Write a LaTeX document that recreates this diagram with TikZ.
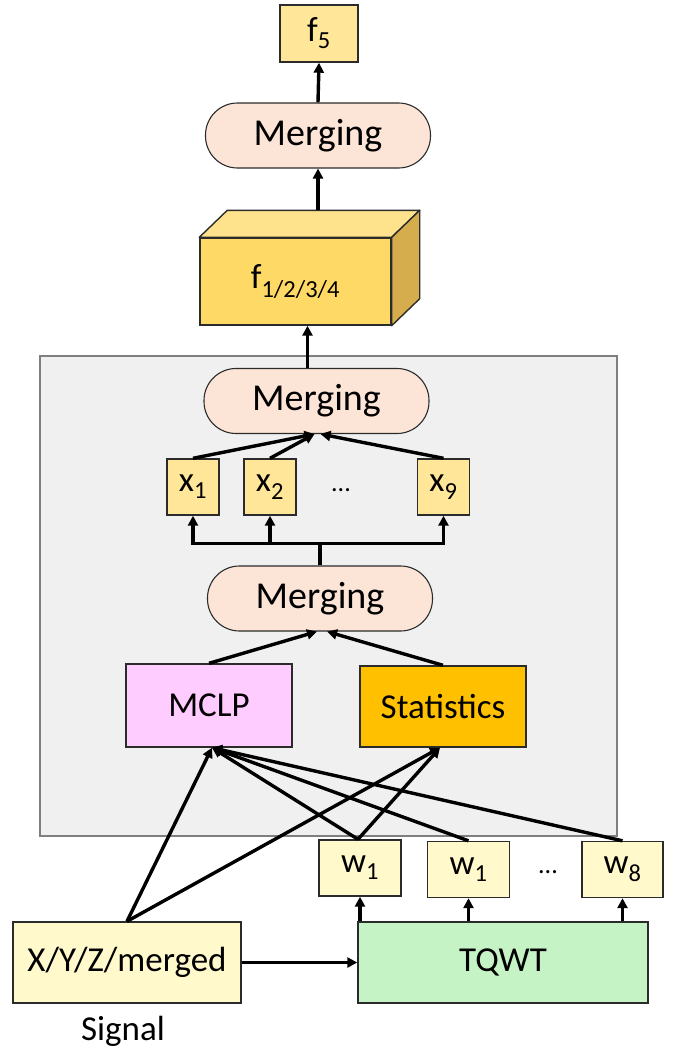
\documentclass[tikz,border=0pt]{standalone}
\usepackage{fontspec}
\setmainfont{Carlito}
\usetikzlibrary{arrows.meta}

\definecolor{goldlight}{HTML}{FFE699}
\definecolor{cubefront}{HTML}{FFD966}
\definecolor{cubetop}{HTML}{FFE38C}
\definecolor{cubeside}{HTML}{D6AD4C}
\definecolor{peach}{HTML}{FCE4D6}
\definecolor{panelgray}{HTML}{F0F0F0}
\definecolor{panelline}{HTML}{7F7F7F}
\definecolor{mclpfill}{HTML}{FFCCFF}
\definecolor{statfill}{HTML}{FFC000}
\definecolor{paleyellow}{HTML}{FFF9CC}
\definecolor{tqwtfill}{HTML}{C5F3C5}
\definecolor{edge}{HTML}{2B2B2B}

\tikzset{
  every node/.style={font=\fontsize{35}{40}\selectfont, inner sep=0pt, align=center},
  box/.style={draw=edge, line width=1.4pt, rectangle},
  pill/.style={draw=edge, line width=1.1pt, fill=peach, minimum width=225pt,
    minimum height=65pt, rounded corners=32pt, font=\fontsize{38}{42}\selectfont},
  smallbox/.style={box, fill=goldlight, minimum width=52pt, minimum height=56pt},
  wbox/.style={box, fill=paleyellow, minimum width=82pt, minimum height=56pt},
  arr/.style={line width=3.4pt, -{Triangle[length=10pt,width=10pt]}},
  link/.style={line width=3.4pt},
}

\begin{document}
\begin{tikzpicture}[x=1pt,y=-1pt]
\useasboundingbox (0,0) rectangle (681,1055);

% background panel holding the feature extraction stage
\draw[fill=panelgray, draw=panelline, line width=1.4pt] (40,356) rectangle (617,836);

% output layer
\node[box, fill=goldlight, minimum width=78pt, minimum height=57pt] (f5) at (319,33.5) {f\textsubscript{5}};
\node[pill] (m1) at (318,135.5) {Merging};

% 3D block of the per-axis feature sets
\node[box, fill=cubefront, minimum width=191pt, minimum height=87pt] (cube) at (295.5,281.5) {f\textsubscript{1/2/3/4}};
\draw[fill=cubetop, draw=edge, line width=1.4pt, line join=round]
  (cube.north west) -- ([shift={(28,-27)}]cube.north west) -- ([shift={(28,-27)}]cube.north east) -- (cube.north east) -- cycle;
\draw[fill=cubeside, draw=edge, line width=1.4pt, line join=round]
  (cube.north east) -- ([shift={(28,-27)}]cube.north east) -- ([shift={(28,-27)}]cube.south east) -- (cube.south east) -- cycle;
\coordinate (ctop) at ([shift={(28,-27)}]cube.north);

% merging of the nine feature groups
\node[pill] (m2) at (316.5,401) {Merging};
\node[smallbox] (x1) at (193,487) {x\textsubscript{1}};
\node[smallbox] (x2) at (270,487) {x\textsubscript{2}};
\node (xdots) at (341,490) {\fontsize{26}{30}\selectfont ...};
\node[smallbox] (x9) at (443.5,487) {x\textsubscript{9}};

\node[pill] (m3) at (320,598.5) {Merging};
\node[box, fill=mclpfill, minimum width=166pt, minimum height=83pt] (mclp) at (209,705.5) {MCLP};
\node[box, fill=statfill, minimum width=166pt, minimum height=81pt] (stat) at (443,706.5) {Statistics};

% signal and wavelet decomposition
\node[box, fill=paleyellow, minimum width=228pt, minimum height=81pt] (sig) at (127,962.5) {X/Y/Z/merged};
\node (siglabel) at (123,1031) {Signal};
\node[box, fill=tqwtfill, minimum width=290pt, minimum height=81pt] (tqwt) at (503,962.5) {TQWT};
\node[wbox] (w1) at (360,868) {w\textsubscript{1}};
\node[wbox] (w2) at (468.5,869.5) {w\textsubscript{1}};
\node (wdots) at (548,872) {\fontsize{26}{30}\selectfont ...};
\node[wbox, minimum width=81pt] (w8) at (622.5,869.5) {w\textsubscript{8}};

% connectors: top part
\draw[arr] (m1.north) -- (f5.south);
\draw[arr] (ctop -| m1.south) -- (m1.south);
\draw[arr] ([xshift=-9pt]m2.north) -- ([xshift=-9pt]m2.north |- cube.south);

% x groups into merging
\draw[arr] (x1.north) -- ([xshift=-2pt]m2.south);
\draw[arr] (x2.north) -- ([xshift=-2pt]m2.south);
\draw[arr] (x9.north) -- ([xshift=4pt]m2.south);

% distribution bus from lower merging to the x groups
\coordinate (bus) at ([yshift=22pt]m3.north);
\draw[link] (m3.north) -- (bus);
\draw[link, line cap=rect] (bus -| x1.south) -- (bus -| x9.south);
\draw[arr] (bus -| x1.south) -- (x1.south);
\draw[arr] (bus -| x2.south) -- (x2.south);
\draw[arr] (bus -| x9.south) -- (x9.south);

% MCLP / statistics into merging
\draw[arr] (mclp.north) -- ([xshift=-3pt]m3.south);
\draw[arr] (stat.north) -- ([xshift=7pt]m3.south);

% inputs to MCLP and statistics
\coordinate (mclpin) at ([xshift=3pt]mclp.south);
\coordinate (statin) at ([xshift=-3pt]stat.south);
\draw[arr] (sig.north) -- (mclpin);
\draw[arr] (sig.north) -- (statin);
\draw[arr] ([xshift=-2pt]w1.north) -- (mclpin);
\draw[arr] ([xshift=-2pt]w1.north) -- (statin);
\draw[arr] (w2.north) -- (mclpin);
\draw[arr] (w8.north) -- (mclpin);

% signal into TQWT and sub-bands out of it
\draw[arr] (sig.east) -- (tqwt.west);
\draw[arr] (tqwt.north -| w1.south) -- (w1.south);
\draw[arr] (tqwt.north -| w2.south) -- (w2.south);
\draw[arr] (tqwt.north -| w8.south) -- (w8.south);
\end{tikzpicture}
\end{document}
